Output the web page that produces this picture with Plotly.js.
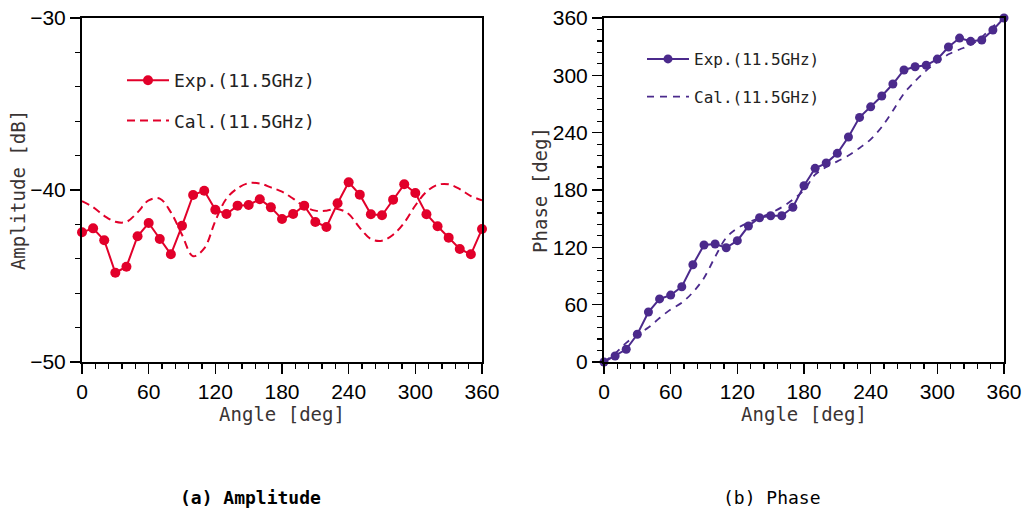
<!DOCTYPE html>
<html>
<head>
<meta charset="utf-8">
<script src="https://cdn.plot.ly/plotly-3.0.1.min.js"></script>
<style>
  html, body { margin: 0; padding: 0; background: #fff; }
  #chart { width: 1026px; height: 515px; }
</style>
</head>
<body>
<div id="chart"></div>
<script>
// Angles in degrees
const angles = [0,10,20,30,40,50,60,70,80,90,100,110,120,130,140,150,160,170,180,
                190,200,210,220,230,240,250,260,270,280,290,300,310,320,330,340,350,360];

// (a) Amplitude [dB]
const ampExp = [-42.46,-42.23,-42.92,-44.81,-44.46,-42.69,-41.92,-42.85,-43.74,-42.08,
                -40.29,-40.04,-41.15,-41.40,-40.91,-40.87,-40.54,-41.01,-41.69,-41.40,
                -40.91,-41.86,-42.15,-40.77,-39.55,-40.27,-41.41,-41.47,-40.56,-39.67,
                -40.17,-41.41,-42.11,-42.77,-43.43,-43.74,-42.27];
const ampCal = [-40.65,-41.00,-41.50,-41.85,-41.85,-41.30,-40.60,-40.50,-41.30,-42.60,
                -43.85,-43.40,-41.80,-40.50,-39.90,-39.60,-39.62,-39.85,-40.10,-40.50,
                -40.95,-41.20,-41.20,-41.10,-41.40,-42.20,-42.85,-42.95,-42.60,-41.90,
                -40.90,-40.10,-39.70,-39.67,-39.95,-40.35,-40.60];

// (b) Phase [deg]
const phExp = [0,6.3,13.3,29,52.3,66,70,78.8,101.8,122.4,123.5,119.6,127,142.3,151,153,153,162,184.5,
               202.7,208.2,218.4,235.5,256,267,278.4,290.9,305.6,309,310.5,317,329.6,339,335.6,337,347.4,360];
const phCal = [0,9,20,29,36,46,55,62,73,88,110,130,140,146,151,156,162,170,180,
               196,204,210,216,224,233,246,263,281,294,305,314,322,327,332,340,351,360];

const seriesNames = ['Exp.(11.5GHz)', 'Cal.(11.5GHz)'];
const captions = ['(a) Amplitude', '(b) Phase'];

const RED = '#e2002a';
const PURPLE = '#4b2a8c';
const monoFont = 'DejaVu Sans Mono, Liberation Mono, monospace';
const tickFont = {family: 'Liberation Sans, Arial, sans-serif', size: 21, color: '#000'};
const titleFont = {family: monoFont, size: 19, color: '#3a3434'};

const traces = [
  {x: angles, y: ampExp, name: seriesNames[0], type: 'scatter', mode: 'lines+markers',
   line: {color: RED, width: 2}, marker: {color: RED, size: 10}, xaxis: 'x', yaxis: 'y',
   legend: 'legend', legendgroup: 'a1', cliponaxis: false},
  {x: angles, y: ampCal, name: seriesNames[1], type: 'scatter', mode: 'lines',
   line: {color: RED, width: 2, dash: '8px,5px', shape: 'spline', smoothing: 1}, xaxis: 'x', yaxis: 'y',
   legend: 'legend', legendgroup: 'a2', cliponaxis: false},
  {x: angles, y: phExp, name: seriesNames[0], type: 'scatter', mode: 'lines+markers',
   line: {color: PURPLE, width: 2}, marker: {color: PURPLE, size: 9}, xaxis: 'x2', yaxis: 'y2',
   legend: 'legend2', legendgroup: 'b1', cliponaxis: false},
  {x: angles, y: phCal, name: seriesNames[1], type: 'scatter', mode: 'lines',
   line: {color: PURPLE, width: 1.8, dash: '7px,6px', shape: 'spline', smoothing: 1}, xaxis: 'x2', yaxis: 'y2',
   legend: 'legend2', legendgroup: 'b2', cliponaxis: false}
];

function xax(domain, anchor) {
  return {
    domain: domain, anchor: anchor, range: [0, 360], dtick: 60, tick0: 0,
    ticks: 'outside', ticklen: 10, tickwidth: 1.5, tickcolor: '#000',
    minor: {dtick: 12, ticks: 'outside', ticklen: 5, tickwidth: 1.2, tickcolor: '#000'},
    showline: true, linewidth: 2, linecolor: '#000', mirror: true,
    showgrid: false, zeroline: false, tickfont: tickFont,
    title: {text: 'Angle [deg]', font: titleFont, standoff: 0},
    automargin: false
  };
}

const layout = {
  width: 1026, height: 515,
  margin: {l: 0, r: 0, t: 0, b: 0},
  paper_bgcolor: '#fff', plot_bgcolor: '#fff',
  showlegend: true,
  xaxis: xax([82/1026, 482/1026], 'y'),
  xaxis2: xax([604/1026, 1004/1026], 'y2'),
  yaxis: {
    domain: [1 - 362/515, 1 - 18/515], anchor: 'x', range: [-50, -30], dtick: 10,
    ticks: 'outside', ticklen: 10, tickwidth: 1.5, tickcolor: '#000',
    minor: {dtick: 2, ticks: 'outside', ticklen: 5, tickwidth: 1.2, tickcolor: '#000'},
    showline: true, linewidth: 2, linecolor: '#000', mirror: true,
    showgrid: false, zeroline: false, tickfont: tickFont,
    title: {text: 'Amplitude [dB]', font: titleFont, standoff: 0},
    automargin: false
  },
  yaxis2: {
    domain: [1 - 362/515, 1 - 18/515], anchor: 'x2', range: [0, 360], dtick: 60,
    ticks: 'outside', ticklen: 10, tickwidth: 1.5, tickcolor: '#000',
    minor: {dtick: 12, ticks: 'outside', ticklen: 5, tickwidth: 1.2, tickcolor: '#000'},
    showline: true, linewidth: 2, linecolor: '#000', mirror: true,
    showgrid: false, zeroline: false, tickfont: tickFont,
    title: {text: 'Phase [deg]', font: titleFont, standoff: 0},
    automargin: false
  },
  legend: {
    x: 122/1026, y: 1 - 62/515, xanchor: 'left', yanchor: 'top',
    bgcolor: 'rgba(0,0,0,0)', borderwidth: 0,
    font: {family: monoFont, size: 18, color: '#222'},
    traceorder: 'grouped', tracegroupgap: 14, itemwidth: 42
  },
  legend2: {
    x: 642/1026, y: 1 - 42/515, xanchor: 'left', yanchor: 'top',
    bgcolor: 'rgba(0,0,0,0)', borderwidth: 0,
    font: {family: monoFont, size: 16, color: '#222'},
    traceorder: 'grouped', tracegroupgap: 14, itemwidth: 42
  },
  annotations: [
    {text: captions[0], xref: 'paper', yref: 'paper', x: 250/1026, y: 1 - 497/515,
     showarrow: false, xanchor: 'center', yanchor: 'middle',
     font: {family: monoFont, size: 18, color: '#000', weight: 'bold'}},
    {text: captions[1], xref: 'paper', yref: 'paper', x: 772/1026, y: 1 - 497/515,
     showarrow: false, xanchor: 'center', yanchor: 'middle',
     font: {family: monoFont, size: 18, color: '#000'}}
  ]
};

Plotly.newPlot('chart', traces, layout, {displayModeBar: false, staticPlot: true});
</script>
</body>
</html>
